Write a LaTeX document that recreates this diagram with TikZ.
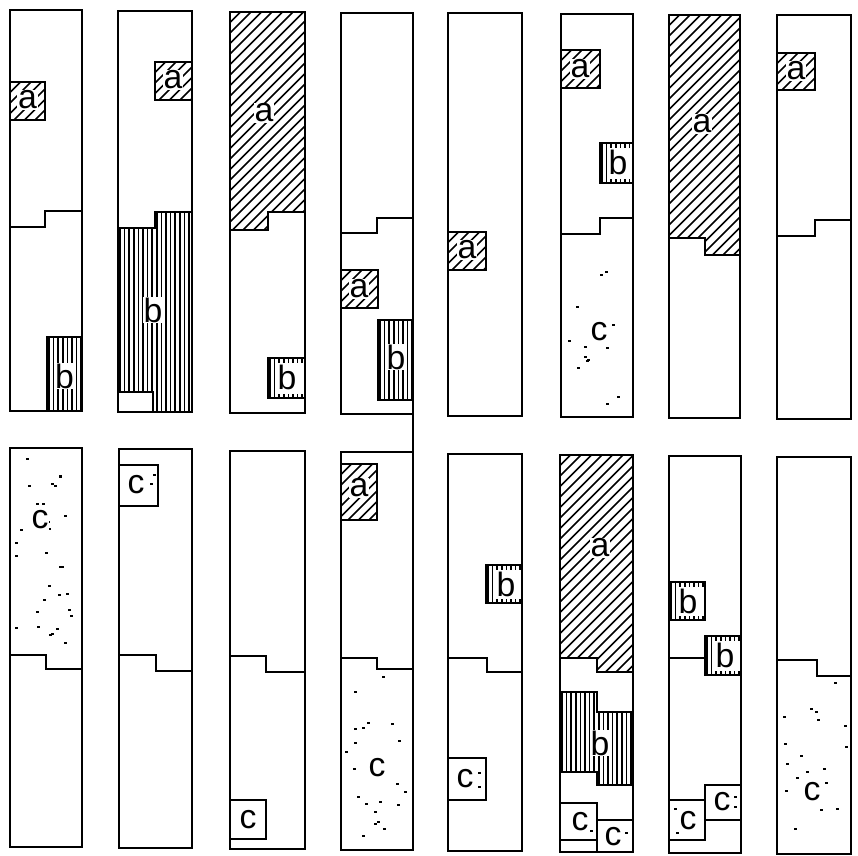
\documentclass[tikz,border=0pt]{standalone}
\usepackage{fontspec}
\setmainfont{Liberation Sans}
\tikzset{
  outline/.style={line width=2.1pt, line join=miter},
  sline/.style={line width=1.8pt, line join=miter},
  hl/.style={line width=1.15pt},
  vl/.style={line width=1.1pt},
  lbl/.style={font=\fontsize{24}{24}\selectfont, inner sep=0.5pt},
  lblw/.style={lbl, fill=white},
}
% diagonal hatching: x1 y1 x2 y2 {clip path}
\newcommand{\hatchA}[5]{%
  \begin{scope}
    \clip #5;
    \pgfmathsetmacro\hh{#4-#2}%
    \pgfmathsetmacro\hstart{#1-\hh}%
    \pgfmathsetmacro\hnext{\hstart+10.5}%
    \foreach \q in {\hstart,\hnext,...,#3}{\draw[hl] (\q,#4) -- ++(\hh,-\hh);}
  \end{scope}}
% vertical hatching: x1 y1 x2 y2 {clip path}
\newcommand{\hatchB}[5]{%
  \begin{scope}
    \clip #5;
    \pgfmathsetmacro\vs{#1+2}%
    \pgfmathsetmacro\vn{#1+6.6}%
    \foreach \q in {\vs,\vn,...,#3}{\draw[vl] (\q,#2) -- (\q,#4);}
  \end{scope}}
\newcommand{\scatterdots}[6]{%
  \pgfmathsetseed{#1}%
  \foreach \k in {1,...,#6}{%
    \pgfmathsetmacro\dx{#2+rnd*(#4-#2)}%
    \pgfmathsetmacro\dy{#3+rnd*(#5-#3)}%
    \fill (\dx,\dy) rectangle ++(3,2);
  }%
}
\newcommand{\bbox}[4]{% small b box with ticked border
  \hatchB{#1}{#2}{#3}{#4}{(#1,#2) rectangle (#3,#4)}
  \fill[white] (#1+7,#2+5) rectangle (#3,#4-4);
}
\begin{document}
\begin{tikzpicture}[x=0.025cm,y=-0.025cm]
\useasboundingbox (0,0) rectangle (858,856);

% ================= TOP ROW =================
% T1
\hatchA{10}{82}{45}{120}{(10,82) rectangle (45,120)}
\hatchB{47}{337}{82}{411}{(47,337) rectangle (82,411)}
\draw[sline] (10,82) rectangle (45,120);
\draw[sline] (47,337) rectangle (82,411);
\draw[outline] (10,227) -- (45,227) -- (45,211) -- (82,211);
\draw[outline] (10,10) rectangle (82,411);
\node[lblw] (t1a) at (27.5,100) {a};
\node[lblw] (t1b) at (64.5,376) {b};

% T2
\hatchA{155}{62}{192}{100}{(155,62) rectangle (192,100)}
\hatchB{118}{212}{192}{412}{(118,228) -- (155,228) -- (155,212) -- (192,212) -- (192,412) -- (118,412) -- cycle}
\fill[white] (118,392) rectangle (153,412);
\draw[sline] (155,62) rectangle (192,100);
\draw[sline] (118,392) rectangle (153,412);
\draw[outline] (118,228) -- (155,228) -- (155,212) -- (192,212);
\draw[outline] (118,11) rectangle (192,412);
\node[lblw] (t2a) at (173,80) {a};
\node[lblw] (t2b) at (153,310) {b};

% T3
\hatchA{230}{12}{305}{230}{(230,12) -- (305,12) -- (305,212) -- (268,212) -- (268,230) -- (230,230) -- cycle}
\bbox{268}{358}{305}{398}
\draw[sline] (268,358) rectangle (305,398);
\draw[outline] (230,230) -- (268,230) -- (268,212) -- (305,212);
\draw[outline] (230,12) rectangle (305,413);
\node[lblw] (t3a) at (264,113) {a};
\node[lbl] (t3b) at (287,377) {b};

% T4
\hatchA{341}{270}{378}{308}{(341,270) rectangle (378,308)}
\hatchB{378}{320}{413}{400}{(378,320) rectangle (413,400)}
\draw[sline] (341,270) rectangle (378,308);
\draw[sline] (378,320) rectangle (413,400);
\draw[outline] (341,233) -- (377,233) -- (377,218) -- (413,218);
\draw[outline] (341,13) rectangle (413,414);
\coordinate (t4br) at (413,414);
\coordinate (b4tr) at (413,452);
\draw[outline] (t4br) -- (b4tr);
\node[lblw] (t4a) at (359,289) {a};
\node[lblw] (t4b) at (396,357) {b};

% T5
\hatchA{448}{232}{486}{270}{(448,232) rectangle (486,270)}
\draw[sline] (448,232) rectangle (486,270);
\draw[outline] (448,13) rectangle (522,416);
\node[lblw] (t5a) at (467,250) {a};

% T6
\hatchA{561}{50}{600}{88}{(561,50) rectangle (600,88)}
\bbox{600}{143}{633}{183}
\draw[sline] (561,50) rectangle (600,88);
\draw[sline] (600,143) rectangle (633,183);
\scatterdots{11}{565}{240}{628}{412}{13}
\draw[outline] (561,234) -- (600,234) -- (600,218) -- (633,218);
\draw[outline] (561,14) rectangle (633,417);
\node[lblw] (t6a) at (580,69) {a};
\node[lbl] (t6b) at (618,162) {b};
\node[lblw] (t6c) at (599,332) {c};

% T7
\hatchA{669}{15}{740}{255}{(669,15) -- (740,15) -- (740,255) -- (705,255) -- (705,238) -- (669,238) -- cycle}
\draw[outline] (669,238) -- (705,238) -- (705,255) -- (740,255);
\draw[outline] (669,15) rectangle (740,418);
\node[lblw] (t7a) at (702,124) {a};

% T8
\hatchA{777}{53}{815}{90}{(777,53) rectangle (815,90)}
\draw[sline] (777,53) rectangle (815,90);
\draw[outline] (777,236) -- (815,236) -- (815,220) -- (851,220);
\draw[outline] (777,15) rectangle (851,419);
\node[lblw] (t8a) at (796,71) {a};

% ================= BOTTOM ROW =================
% B1
\scatterdots{21}{14}{452}{78}{650}{30}
\draw[outline] (10,655) -- (46,655) -- (46,669) -- (82,669);
\draw[outline] (10,448) rectangle (82,847);
\node[lblw] (b1c) at (40,520) {c};

% B2
\draw[sline] (119,465) rectangle (158,506);
\fill (150,483) rectangle ++(3,2);
\fill (153,474) rectangle ++(3,2);
\draw[outline] (119,655) -- (156,655) -- (156,671) -- (192,671);
\draw[outline] (119,449) rectangle (192,848);
\node[lbl] (b2c) at (136,485) {c};

% B3
\draw[sline] (230,800) rectangle (266,839);
\draw[outline] (230,656) -- (266,656) -- (266,672) -- (305,672);
\draw[outline] (230,451) rectangle (305,849);
\node[lbl] (b3c) at (248,820) {c};

% B4
\hatchA{341}{464}{377}{520}{(341,464) rectangle (377,520)}
\draw[sline] (341,464) rectangle (377,520);
\scatterdots{31}{345}{675}{409}{846}{22}
\draw[outline] (341,658) -- (377,658) -- (377,669) -- (413,669);
\draw[outline] (341,452) rectangle (413,850);
\node[lblw] (b4a) at (359,488) {a};
\node[lblw] (b4c) at (377,768) {c};

% B5
\bbox{486}{565}{522}{603}
\draw[sline] (486,565) rectangle (522,603);
\draw[sline] (448,758) rectangle (486,800);
\fill (478,772) rectangle ++(3,2);
\fill (478,786) rectangle ++(3,2);
\draw[outline] (448,658) -- (487,658) -- (487,672) -- (522,672);
\draw[outline] (448,454) rectangle (522,851);
\node[lbl] (b5b) at (506,584) {b};
\node[lbl] (b5c) at (465,779) {c};

% B6
\hatchA{560}{455}{633}{672}{(560,455) -- (633,455) -- (633,672) -- (597,672) -- (597,658) -- (560,658) -- cycle}
\hatchB{560}{692}{633}{785}{(560,692) -- (597,692) -- (597,712) -- (633,712) -- (633,785) -- (597,785) -- (597,772) -- (560,772) -- cycle}
\draw[outline] (560,658) -- (597,658) -- (597,672) -- (633,672);
\draw[sline] (560,692) -- (597,692) -- (597,712) -- (633,712);
\draw[sline] (560,772) -- (597,772) -- (597,785) -- (633,785);
\draw[sline] (560,803) rectangle (597,840);
\draw[sline] (597,820) rectangle (633,852);
\fill (590,830) rectangle ++(3,2);
\fill (625,832) rectangle ++(3,2);
\draw[outline] (560,455) rectangle (633,852);
\node[lblw] (b6a) at (600,548) {a};
\node[lblw] (b6b) at (600,743) {b};
\node[lbl] (b6c1) at (580,822) {c};
\node[lbl] (b6c2) at (613,837) {c};

% B7
\bbox{669}{582}{705}{620}
\bbox{705}{636}{741}{675}
\draw[sline] (669,582) rectangle (705,620);
\draw[outline] (669,658) -- (705,658);
\draw[sline] (705,636) rectangle (741,675);
\draw[sline] (669,800) rectangle (705,840);
\draw[sline] (705,785) rectangle (741,820);
\fill (674,808) rectangle ++(3,2);
\fill (676,832) rectangle ++(3,2);
\fill (734,796) rectangle ++(3,2);
\fill (734,806) rectangle ++(3,2);
\draw[outline] (669,456) rectangle (741,853);
\node[lbl] (b7b1) at (688,601) {b};
\node[lbl] (b7b2) at (725,655) {b};
\node[lbl] (b7c1) at (688,821) {c};
\node[lbl] (b7c2) at (722,802) {c};

% B8
\scatterdots{41}{781}{682}{847}{849}{18}
\draw[outline] (777,660) -- (817,660) -- (817,676) -- (851,676);
\draw[outline] (777,457) rectangle (851,854);
\node[lblw] (b8c) at (812,792) {c};

\end{tikzpicture}
\end{document}
